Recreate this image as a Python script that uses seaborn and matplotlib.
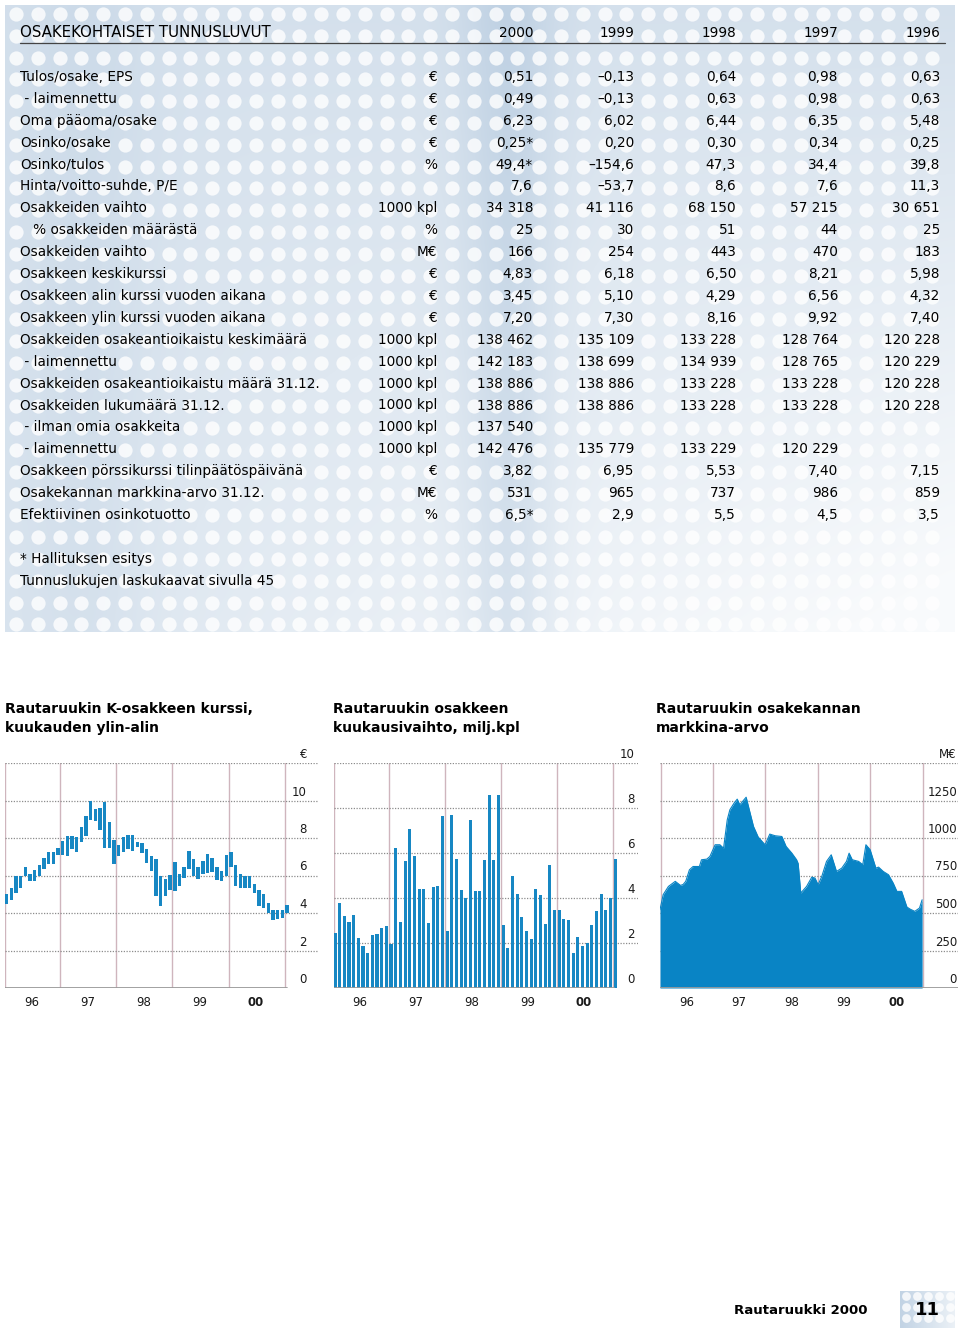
import numpy as np
import pandas as pd
import seaborn as sns
import matplotlib.pyplot as plt
from matplotlib.transforms import blended_transform_factory, offset_copy

# ---- key figures table ----
table_title = 'OSAKEKOHTAISET TUNNUSLUVUT'
years = ['2000', '1999', '1998', '1997', '1996']
row_labels = [
    'Tulos/osake, EPS', ' - laimennettu', 'Oma pääoma/osake', 'Osinko/osake',
    'Osinko/tulos', 'Hinta/voitto-suhde, P/E', 'Osakkeiden vaihto',
    '   % osakkeiden määrästä', 'Osakkeiden vaihto', 'Osakkeen keskikurssi',
    'Osakkeen alin kurssi vuoden aikana', 'Osakkeen ylin kurssi vuoden aikana',
    'Osakkeiden osakeantioikaistu keskimäärä', ' - laimennettu',
    'Osakkeiden osakeantioikaistu määrä 31.12.', 'Osakkeiden lukumäärä 31.12.',
    ' - ilman omia osakkeita', ' - laimennettu',
    'Osakkeen pörssikurssi tilinpäätöspäivänä', 'Osakekannan markkina-arvo 31.12.',
    'Efektiivinen osinkotuotto']
row_units = ['€', '€', '€', '€', '%', '', '1000 kpl', '%', 'M€', '€', '€', '€',
             '1000 kpl', '1000 kpl', '1000 kpl', '1000 kpl', '1000 kpl', '1000 kpl',
             '€', 'M€', '%']
col_2000 = ['0,51', '0,49', '6,23', '0,25*', '49,4*', '7,6', '34 318', '25', '166',
            '4,83', '3,45', '7,20', '138 462', '142 183', '138 886', '138 886',
            '137 540', '142 476', '3,82', '531', '6,5*']
col_1999 = ['–0,13', '–0,13', '6,02', '0,20', '–154,6', '–53,7', '41 116', '30', '254',
            '6,18', '5,10', '7,30', '135 109', '138 699', '138 886', '138 886',
            '', '135 779', '6,95', '965', '2,9']
col_1998 = ['0,64', '0,63', '6,44', '0,30', '47,3', '8,6', '68 150', '51', '443',
            '6,50', '4,29', '8,16', '133 228', '134 939', '133 228', '133 228',
            '', '133 229', '5,53', '737', '5,5']
col_1997 = ['0,98', '0,98', '6,35', '0,34', '34,4', '7,6', '57 215', '44', '470',
            '8,21', '6,56', '9,92', '128 764', '128 765', '133 228', '133 228',
            '', '120 229', '7,40', '986', '4,5']
col_1996 = ['0,63', '0,63', '5,48', '0,25', '39,8', '11,3', '30 651', '25', '183',
            '5,98', '4,32', '7,40', '120 228', '120 229', '120 228', '120 228',
            '', '', '7,15', '859', '3,5']
footnotes = ['* Hallituksen esitys', 'Tunnuslukujen laskukaavat sivulla 45']

# ---- charts ----
year_labels = ['96', '97', '98', '99', '00']

# monthly high / low share price, EUR (Jan 1996 ->)
price_high = [5.00, 5.32, 5.98, 5.98, 6.46, 6.07, 6.30, 6.57, 6.91, 7.27, 7.27, 7.45,
              7.86, 8.13, 8.09, 8.04, 8.57, 9.20, 9.95, 9.55, 9.59, 9.91, 8.88, 7.89,
              7.63, 8.04, 8.18, 8.18, 7.80, 7.73, 7.41, 7.05, 6.88, 5.98, 5.80, 6.02,
              6.73, 6.07, 6.43, 7.32, 6.88, 6.46, 6.79, 7.14, 6.91, 6.43, 6.25, 7.09,
              7.23, 6.55, 6.07, 5.98, 5.98, 5.54, 5.23, 5.00, 4.55, 4.16, 4.16, 4.16, 4.43]
price_low = [4.50, 4.70, 5.05, 5.36, 5.95, 5.71, 5.71, 5.98, 6.34, 6.64, 6.64, 7.09,
             7.11, 7.02, 7.41, 7.23, 7.77, 8.13, 8.96, 8.93, 8.43, 7.45, 7.45, 6.64,
             7.02, 7.27, 7.41, 7.32, 7.50, 7.20, 6.66, 6.25, 4.91, 4.35, 4.91, 5.23,
             5.20, 5.45, 5.89, 6.34, 5.95, 5.80, 6.07, 6.16, 6.20, 5.75, 5.71, 5.98,
             6.43, 5.45, 5.36, 5.32, 5.32, 5.05, 4.37, 4.29, 3.98, 3.62, 3.70, 3.72, 3.98]

# monthly turnover, million shares
volume = [2.44, 3.78, 3.19, 2.92, 3.23, 2.21, 1.85, 1.56, 2.34, 2.39, 2.65, 2.74,
          1.97, 6.21, 2.92, 5.66, 7.07, 5.88, 4.40, 4.40, 2.89, 4.47, 4.52, 7.65,
          2.52, 7.68, 5.73, 4.34, 4.00, 7.45, 4.30, 4.33, 5.68, 8.58, 5.68, 8.58,
          2.79, 1.77, 5.00, 4.16, 3.14, 2.52, 2.17, 4.38, 4.12, 2.84, 5.46, 3.45,
          3.48, 3.08, 3.01, 1.56, 2.25, 1.85, 2.00, 2.79, 3.41, 4.16, 3.45, 4.00, 5.72]

# market capitalisation, MEUR
mcap_t = [1996.00, 1996.06, 1996.16, 1996.29, 1996.39, 1996.44, 1996.49, 1996.56,
          1996.63, 1996.75, 1996.79, 1996.89, 1996.95, 1997.05, 1997.14, 1997.21,
          1997.28, 1997.33, 1997.41, 1997.47, 1997.52, 1997.57, 1997.64, 1997.70,
          1997.78, 1997.87, 1998.00, 1998.09, 1998.19, 1998.32, 1998.40, 1998.51,
          1998.60, 1998.63, 1998.68, 1998.79, 1998.89, 1998.95, 1999.01, 1999.08,
          1999.17, 1999.26, 1999.36, 1999.46, 1999.55, 1999.60, 1999.66, 1999.78,
          1999.86, 1999.92, 2000.00, 2000.11, 2000.16, 2000.25, 2000.35, 2000.44,
          2000.51, 2000.60, 2000.70, 2000.76, 2000.85, 2000.94, 2000.99]
mcap = [522, 622, 677, 711, 684, 690, 711, 788,
        810, 810, 855, 859, 877, 955, 955, 932,
        1121, 1188, 1232, 1259, 1221, 1243, 1272, 1188,
        1077, 1006, 955, 1026, 1015, 1010, 944, 899,
        855, 830, 633, 677, 739, 733, 688, 744,
        844, 888, 777, 799, 844, 899, 855, 844,
        822, 955, 922, 799, 806, 777, 755, 699,
        644, 644, 540, 526, 511, 533, 588]

BLUE = '#1787c3'
AREA = '#0984c5'
VLINE = '#cfb5bd'
HLINE = '#8c8c8c'

sns.set_theme(style='white')
plt.rcParams['font.family'] = ['DejaVu Sans']
plt.rcParams['text.color'] = 'black'

W, H = 960, 1331
fig = plt.figure(figsize=(W / 100, H / 100), dpi=100)
fig.patch.set_facecolor('white')

# page-level axes in pixel coordinates
ax0 = fig.add_axes([0, 0, 1, 1])
ax0.axis('off')

# dotted blue background behind the table
gx = np.linspace(0, 1, 120)
gy = np.linspace(0, 1, 80)
U, V = np.meshgrid(gx, gy)
d = (0.52 + 0.26 * np.exp(-((U - 0.53) / 0.05) ** 2)
     + 0.10 * np.exp(-((U - 0.08) / 0.07) ** 2)
     - 0.40 * V * U - 0.08 * V)
d = np.clip(d, 0.08, 1)
dark = np.array([0.68, 0.77, 0.86])
img = 1 - d[..., None] * (1 - dark)
ax0.imshow(img, extent=(5, 955, 632, 5), aspect='auto', interpolation='bicubic', zorder=0)
dx, dy = np.meshgrid(np.arange(16, 950, 21.8), np.arange(14, 628, 21.8))
ax0.scatter(dx.ravel(), dy.ravel(), s=105, color='white', alpha=0.8, lw=0, zorder=1)

fs = 9.8
col_x = [533, 634, 736, 838, 940]
ax0.text(20, 37, table_title, fontsize=10.8, va='baseline', zorder=3)
for x, yr in zip(col_x, years):
    ax0.text(x, 37, yr, fontsize=fs, ha='right', va='baseline', zorder=3)
ax0.plot([20, 945], [42.5, 42.5], color='#444444', lw=0.9, zorder=3)

columns = [col_2000, col_1999, col_1998, col_1997, col_1996]
for i, (lab, unit) in enumerate(zip(row_labels, row_units)):
    y = 76 + 21.9 * i + 5
    ax0.text(20, y, lab, fontsize=fs, va='baseline', zorder=3)
    ax0.text(437, y, unit, fontsize=fs, ha='right', va='baseline', zorder=3)
    for x, col in zip(col_x, columns):
        ax0.text(x, y, col[i], fontsize=fs, ha='right', va='baseline', zorder=3)

for j, note in enumerate(footnotes):
    ax0.text(20, 563 + 22 * j, note, fontsize=fs, va='baseline', zorder=3)

# chart titles
titles = [(5, ['Rautaruukin K-osakkeen kurssi,', 'kuukauden ylin-alin']),
          (333, ['Rautaruukin osakkeen', 'kuukausivaihto, milj.kpl']),
          (656, ['Rautaruukin osakekannan', 'markkina-arvo'])]
for x, lines in titles:
    for k, line in enumerate(lines):
        ax0.text(x, 713 + 19 * k, line, fontsize=10, fontweight='bold', va='baseline')

# footer
ax0.text(868, 1314, 'Rautaruukki 2000', fontsize=9.5, fontweight='bold', ha='right', va='baseline')
bx, by = np.meshgrid(np.linspace(0, 1, 30), np.linspace(0, 1, 20))
box = 1 - (0.75 - 0.5 * bx)[..., None] * (1 - dark)
ax0.imshow(box, extent=(900, 955, 1328, 1291), aspect='auto', zorder=2)
px, py = np.meshgrid(np.arange(906, 955, 11), np.arange(1296, 1328, 11))
ax0.scatter(px.ravel(), py.ravel(), s=40, color='white', alpha=0.8, lw=0, zorder=3)
ax0.text(927, 1310, '11', fontsize=13, fontweight='bold', ha='center', va='center', zorder=4)
ax0.set_xlim(0, W)
ax0.set_ylim(H, 0)


def px_axes(x0, y0, x1, y1):
    a = fig.add_axes([x0 / W, 1 - y1 / H, (x1 - x0) / W, (y1 - y0) / H])
    a.set_facecolor('none')
    for s in a.spines.values():
        s.set_visible(False)
    return a


def decorate(ax, yticks, ylabels, label_frac, year_pos, vlines, bottom_to):
    ax.set_ylim(yticks[0], yticks[-1])
    for v in yticks[1:]:
        ax.axhline(v, color=HLINE, lw=0.9, ls=(0, (1, 1.2)), zorder=1)
    ax.axhline(0, xmax=bottom_to, color='#9a9a9a', lw=1.3, zorder=3)
    for v in vlines:
        ax.axvline(v, color=VLINE, lw=1.0, zorder=0)
    trans = offset_copy(blended_transform_factory(ax.transAxes, ax.transData),
                        fig=fig, y=2, units='dots')
    for v, lab in zip(yticks, ylabels):
        ax.text(label_frac, v, lab, transform=trans, ha='right', va='bottom',
                fontsize=8.5, color='#1a1a1a', clip_on=False)
    tx = blended_transform_factory(ax.transData, ax.transAxes)
    for x, lab in zip(year_pos, year_labels):
        ax.text(x, -0.065, lab, transform=tx, ha='center', va='center', fontsize=8.5,
                color='#1a1a1a', fontweight='bold' if lab == '00' else 'normal')
    ax.set_xticks([])
    ax.set_yticks([])
    ax.set_xlabel('')
    ax.set_ylabel('')


months = np.arange(len(volume))
year_edges = [11.5, 23.5, 35.5, 47.5, 59.5]
year_mid = [5.3, 17.3, 29.3, 41.3, 53.3]

# chart 1: monthly high-low range
ax1 = px_axes(5, 763, 318, 988)
hi = np.array(price_high)
lo = np.array(price_low)
ax1.bar(months, hi - lo, bottom=lo, width=0.72, color=BLUE, lw=0, zorder=2)
ax1.set_xlim((5 - 6.7) / 4.67, (318 - 6.7) / 4.67)
decorate(ax1, [0, 2, 4, 6, 8, 10, 12], ['0', '2', '4', '6', '8', '10', '€'],
         (307 - 5) / 313, year_mid, [ax1.get_xlim()[0] + 0.05] + year_edges, 0.9)

# chart 2: monthly turnover
ax2 = px_axes(334, 763, 638, 988)
vol_df = pd.DataFrame({'month': months, 'volume': volume})
sns.barplot(data=vol_df, x='month', y='volume', native_scale=True, color=BLUE,
            saturation=1, width=0.66, errorbar=None, linewidth=0, ax=ax2, zorder=2)
ax2.set_xlim((334 - 335) / 4.67, (638 - 335) / 4.67)
decorate(ax2, [0, 2, 4, 6, 8, 10], ['0', '2', '4', '6', '8', '10'],
         (635 - 334) / 304, year_mid, [ax2.get_xlim()[0] + 0.05] + year_edges, 0.92)

# chart 3: market capitalisation
ax3 = px_axes(660, 763, 958, 988)
cap_df = pd.DataFrame({'t': mcap_t, 'cap': mcap})
ax3.fill_between(cap_df['t'], cap_df['cap'], 0, color=AREA, lw=0, zorder=2)
sns.lineplot(data=cap_df, x='t', y='cap', color=AREA, lw=0.8, ax=ax3, zorder=2)
ax3.set_xlim(1996, 1996 + 298 / 52.53)
decorate(ax3, [0, 250, 500, 750, 1000, 1250, 1500],
         ['0', '250', '500', '750', '1000', '1250', 'M€'],
         (957 - 660) / 298, [1996.5, 1997.5, 1998.5, 1999.5, 2000.5],
         [1996.01, 1997, 1998, 1999, 2000, 2001], 1.0)

fig.savefig('out.png', dpi=100)
